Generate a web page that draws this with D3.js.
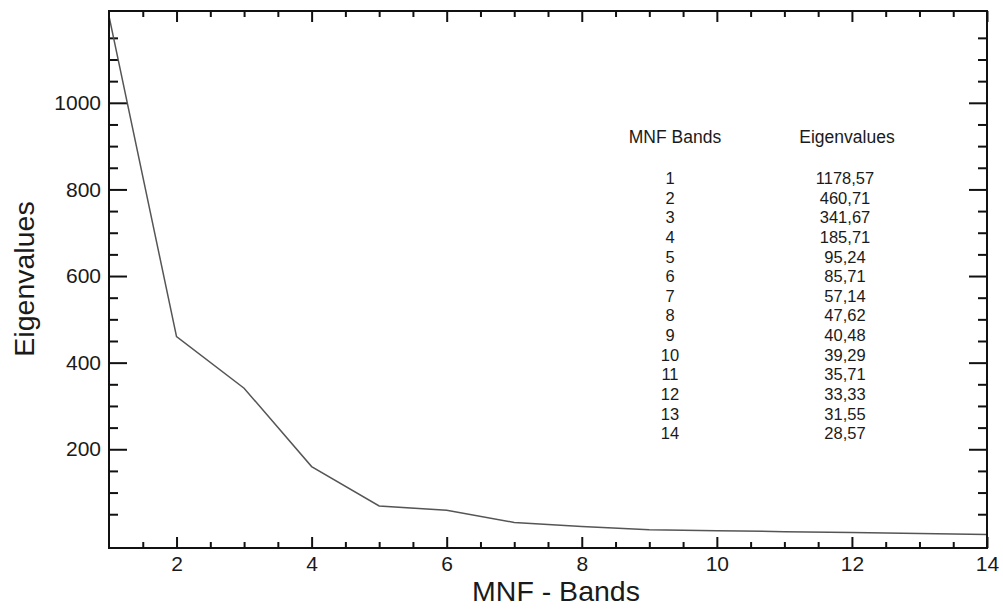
<!DOCTYPE html>
<html lang="en">
<head>
    <meta charset="UTF-8">
    <title>MNF Eigenvalues</title>
    <script src="https://d3js.org/d3.v7.min.js"></script>
    <style>
        body { margin: 0; background: #fff; }
        text { font-family: "Liberation Sans", Arial, Helvetica, sans-serif; fill: #1a1a1a; }
    </style>
</head>
<body>
    <svg id="chart" width="1003" height="611"></svg>

    <script>
        // Curve as drawn
        const bands = [1, 2, 3, 4, 5, 6, 7, 8, 9, 10, 11, 12, 13, 14];
        const plotted = [1200, 460, 341, 160, 69, 59, 31, 21.5, 14, 12, 9.7, 7.6, 5.3, 3];

        // Table printed inside the plot
        const tableBands = ["1", "2", "3", "4", "5", "6", "7", "8", "9", "10", "11", "12", "13", "14"];
        const tableEigen = ["1178,57", "460,71", "341,67", "185,71", "95,24", "85,71", "57,14",
                            "47,62", "40,48", "39,29", "35,71", "33,33", "31,55", "28,57"];

        const xMajor = [2, 4, 6, 8, 10, 12, 14];
        const yMajor = [200, 400, 600, 800, 1000];

        const svg = d3.select("#chart");
        const plotLeft = 109, plotRight = 987, plotTop = 11, plotBottom = 548;

        const x = d3.scaleLinear().domain([1, 14]).range([plotLeft, plotRight]);
        const y = d3.scaleLinear().domain([-28, 1212]).range([plotBottom, plotTop]);

        const xMinor = d3.range(1.5, 14, 0.5).filter(v => v % 2 !== 0);
        const yMinor = d3.range(50, 1200, 50).filter(v => v % 200 !== 0);

        function styleAxis(g) {
            g.select(".domain").remove();
            g.selectAll(".tick line").attr("stroke", "#111").attr("stroke-width", 2);
            g.selectAll("text").attr("font-size", 21).attr("fill", "#1a1a1a");
        }

        // bottom axis
        svg.append("g").attr("transform", `translate(0,${plotBottom})`)
            .call(d3.axisBottom(x).tickValues(xMinor).tickSize(-6).tickFormat(""))
            .call(styleAxis);
        svg.append("g").attr("transform", `translate(0,${plotBottom})`)
            .call(d3.axisBottom(x).tickValues(xMajor).tickSizeInner(-11).tickSizeOuter(0).tickPadding(8).tickFormat(d3.format("d")))
            .call(styleAxis);

        // top axis (mirror)
        svg.append("g").attr("transform", `translate(0,${plotTop})`)
            .call(d3.axisTop(x).tickValues(xMinor).tickSize(-6).tickFormat(""))
            .call(styleAxis);
        svg.append("g").attr("transform", `translate(0,${plotTop})`)
            .call(d3.axisTop(x).tickValues(xMajor).tickSize(-11).tickFormat(""))
            .call(styleAxis);

        // left axis
        svg.append("g").attr("transform", `translate(${plotLeft},0)`)
            .call(d3.axisLeft(y).tickValues(yMinor).tickSize(-9).tickFormat(""))
            .call(styleAxis);
        svg.append("g").attr("transform", `translate(${plotLeft},0)`)
            .call(d3.axisLeft(y).tickValues(yMajor).tickSizeInner(-18).tickSizeOuter(0).tickPadding(8).tickFormat(d3.format("d")))
            .call(styleAxis);

        // right axis (mirror)
        svg.append("g").attr("transform", `translate(${plotRight},0)`)
            .call(d3.axisRight(y).tickValues(yMinor).tickSize(-9).tickFormat(""))
            .call(styleAxis);
        svg.append("g").attr("transform", `translate(${plotRight},0)`)
            .call(d3.axisRight(y).tickValues(yMajor).tickSize(-18).tickFormat(""))
            .call(styleAxis);

        // the curve
        svg.append("path")
            .datum(bands.map((b, i) => [b, plotted[i]]))
            .attr("fill", "none")
            .attr("stroke", "#555")
            .attr("stroke-width", 1.5)
            .attr("d", d3.line().x(d => x(d[0])).y(d => y(d[1])));

        // frame
        svg.append("rect")
            .attr("x", plotLeft).attr("y", plotTop)
            .attr("width", plotRight - plotLeft).attr("height", plotBottom - plotTop)
            .attr("fill", "none").attr("stroke", "#111").attr("stroke-width", 2);

        // axis titles
        svg.append("text")
            .attr("x", 556).attr("y", 601)
            .attr("text-anchor", "middle")
            .attr("font-size", 28.5)
            .text("MNF - Bands");

        svg.append("text")
            .attr("transform", "translate(34,279) rotate(-90)")
            .attr("text-anchor", "middle")
            .attr("font-size", 28.5)
            .text("Eigenvalues");

        // table
        const table = svg.append("g");
        table.append("text").attr("x", 675).attr("y", 143).attr("text-anchor", "middle")
            .attr("font-size", 17.5).text("MNF Bands");
        table.append("text").attr("x", 847).attr("y", 143).attr("text-anchor", "middle")
            .attr("font-size", 17.5).text("Eigenvalues");

        const rowY = d3.scaleLinear().domain([0, 13]).range([184, 439.3]);

        table.selectAll(".band").data(tableBands).join("text")
            .attr("class", "band")
            .attr("x", 670).attr("y", (d, i) => rowY(i))
            .attr("text-anchor", "middle").attr("font-size", 16.5)
            .text(d => d);

        table.selectAll(".eig").data(tableEigen).join("text")
            .attr("class", "eig")
            .attr("x", 845).attr("y", (d, i) => rowY(i))
            .attr("text-anchor", "middle").attr("font-size", 16.5)
            .text(d => d);
    </script>
</body>
</html>
